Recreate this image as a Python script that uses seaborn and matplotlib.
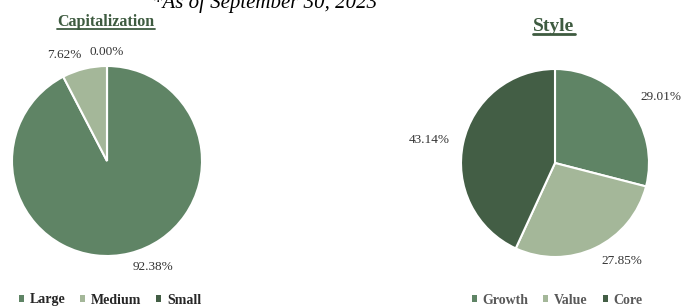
import seaborn as sns
import matplotlib.pyplot as plt
from matplotlib.lines import Line2D

cap_labels = ["Large", "Medium", "Small"]
cap_values = [92.38, 7.62, 0.00]

style_labels = ["Growth", "Value", "Core"]
style_values = [29.01, 27.85, 43.14]

green = "#5f8465"
light = "#a4b799"
dark = "#435e45"
title_color = "#3e5b40"

sns.set_theme(style="white")
plt.rcParams["font.family"] = ["Liberation Serif", "DejaVu Serif"]

W, H = 682, 307
fig = plt.figure(figsize=(W / 100, H / 100), dpi=100)


def pie_axes(cx, cy, r):
    # cx, cy, r in pixels (y from top); pie limits are +-1.25 radii
    s = 2.5 * r
    return fig.add_axes([(cx - s / 2) / W, (H - cy - s / 2) / H, s / W, s / H])


def draw_pie(ax, values, names, colors, legend_x, legend_color):
    wedges, texts = ax.pie(
        values,
        labels=[f"{v:.2f}%" for v in values],
        colors=colors,
        startangle=90,
        counterclock=False,
        labeldistance=1.15,
        wedgeprops=dict(edgecolor="white", linewidth=1.5),
        textprops=dict(fontsize=9.5, color="#333333"),
    )
    ax.set_aspect("equal")
    for v, t in zip(values, texts):
        if v == 0:
            t.set_ha("center")
    leg = fig.legend(
        wedges, names,
        loc="center", bbox_to_anchor=(legend_x / W, 1 - 300 / H),
        ncol=3, frameon=False,
        handlelength=0.35, handleheight=0.35, handletextpad=0.4,
        columnspacing=1.1,
        prop=dict(family="Liberation Serif", weight="bold", size=10),
    )
    for t in leg.get_texts():
        t.set_color(legend_color)
    for h in leg.legend_handles:
        h.set_edgecolor("none")
    return wedges


ax1 = pie_axes(107, 161, 95)
draw_pie(ax1, cap_values, cap_labels, [green, light, dark], 110, "#262626")

ax2 = pie_axes(555, 163, 94)
draw_pie(ax2, style_values, style_labels, [green, light, dark], 557, "#595959")

fig.text(265 / W, 1 - 8 / H, "*As of September 30, 2023", ha="center", va="baseline",
         fontsize=15, style="italic", color="#000000")

t1 = fig.text(106 / W, 1 - 26 / H, "Capitalization", ha="center", va="baseline",
              fontsize=11.5, weight="bold", color=title_color)
t2 = fig.text(554 / W, 1 - 31 / H, "Style", ha="center", va="baseline",
              fontsize=14, weight="bold", color=title_color)

# underline the section titles
fig.canvas.draw()
renderer = fig.canvas.get_renderer()
for t, lw in [(t1, 1.3), (t2, 2.0)]:
    bb = t.get_window_extent(renderer)
    x0, x1 = bb.x0 / W, bb.x1 / W
    y = (bb.y0 + 1) / H
    fig.add_artist(Line2D([x0, x1], [y, y], color=title_color, linewidth=lw,
                          transform=fig.transFigure))

fig.savefig("out.png", dpi=100)
